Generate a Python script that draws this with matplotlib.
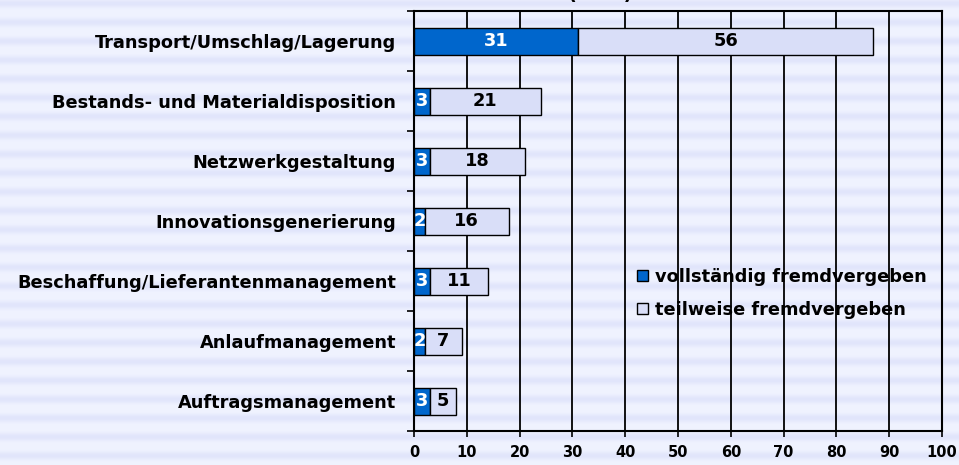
import numpy as np
import matplotlib.pyplot as plt
from matplotlib.patches import Patch

# Categories (top to bottom) and values in %
categories = ["Transport/Umschlag/Lagerung", "Bestands- und Materialdisposition",
              "Netzwerkgestaltung", "Innovationsgenerierung",
              "Beschaffung/Lieferantenmanagement", "Anlaufmanagement",
              "Auftragsmanagement"]
vollstaendig = [31, 3, 3, 2, 3, 2, 3]
teilweise = [56, 21, 18, 16, 11, 7, 5]
xticks = list(range(0, 101, 10))

BLUE = "#0066CC"
LIGHT = "#D9DEF8"

plt.rcParams['font.family'] = ['DejaVu Sans']
plt.rcParams['font.weight'] = 'bold'

fig = plt.figure(figsize=(9.59, 4.65), dpi=100)

# Striped background
bg = fig.add_axes([0, 0, 1, 1], zorder=-10)
rows = np.arange(465)
wave = 0.5 + 0.5 * np.cos(2 * np.pi * (rows - 4) / 18.8)
c_light = np.array([0xF0, 0xF3, 0xFF]) / 255
c_dark = np.array([0xE1, 0xE5, 0xFB]) / 255
img = c_light[None, :] * (1 - wave[:, None] ** 2) + c_dark[None, :] * wave[:, None] ** 2
bg.imshow(np.repeat(img[:, None, :], 10, axis=1), aspect='auto', extent=[0, 1, 0, 1])
bg.set_axis_off()

ax = fig.add_axes([0.4317, 0.0731, 0.5506, 0.9032])
ax.set_facecolor('none')

y = np.arange(len(categories))
ax.barh(y, vollstaendig, height=0.45, color=BLUE, edgecolor='black', linewidth=1, zorder=3)
ax.barh(y, teilweise, left=vollstaendig, height=0.45, color=LIGHT, edgecolor='black',
        linewidth=1, zorder=3)

for yi, v, t in zip(y, vollstaendig, teilweise):
    ax.text(v / 2, yi, str(v), ha='center', va='center', color='white',
            fontsize=12.8, fontweight='bold', zorder=4)
    ax.text(v + t / 2, yi, str(t), ha='center', va='center', color='black',
            fontsize=12.8, fontweight='bold', zorder=4)

ax.set_xlim(0, 100)
ax.set_ylim(len(categories) - 0.5, -0.5)
ax.set_xticks(xticks)
ax.set_xticklabels([str(x) for x in xticks], fontsize=10.5, fontweight='bold')
ax.set_yticks(y)
ax.set_yticklabels(categories, fontsize=12.8, fontweight='bold')
ax.set_yticks(np.arange(-0.5, len(categories), 1), minor=True)
ax.tick_params(axis='y', which='major', length=0, pad=13)
ax.tick_params(axis='y', which='minor', length=5, width=1.2, direction='out')
ax.tick_params(axis='x', length=4, width=1.2, direction='out', pad=6)
ax.grid(axis='x', color='black', linewidth=1.3, zorder=1)
ax.set_axisbelow(True)
for s in ax.spines.values():
    s.set_linewidth(1.5)
    s.set_color('black')

handles = [Patch(facecolor=BLUE, edgecolor='black', linewidth=1),
           Patch(facecolor=LIGHT, edgecolor='black', linewidth=1)]
ax.legend(handles, ["vollständig fremdvergeben", "teilweise fremdvergeben"],
          loc='upper left', bbox_to_anchor=(621 / 959, 1 - 252 / 465),
          bbox_transform=fig.transFigure, frameon=False,
          handlelength=0.6, handleheight=0.6, handletextpad=0.4,
          labelspacing=0.85, prop={'weight': 'bold', 'size': 12.8})

# Title, mostly cut off at the top edge
fig.text(633 / 959, 1 + 1 / 465, "(in %)", ha='right', va='baseline',
         fontsize=14, fontweight='bold')

fig.savefig("out.png", dpi=100)
